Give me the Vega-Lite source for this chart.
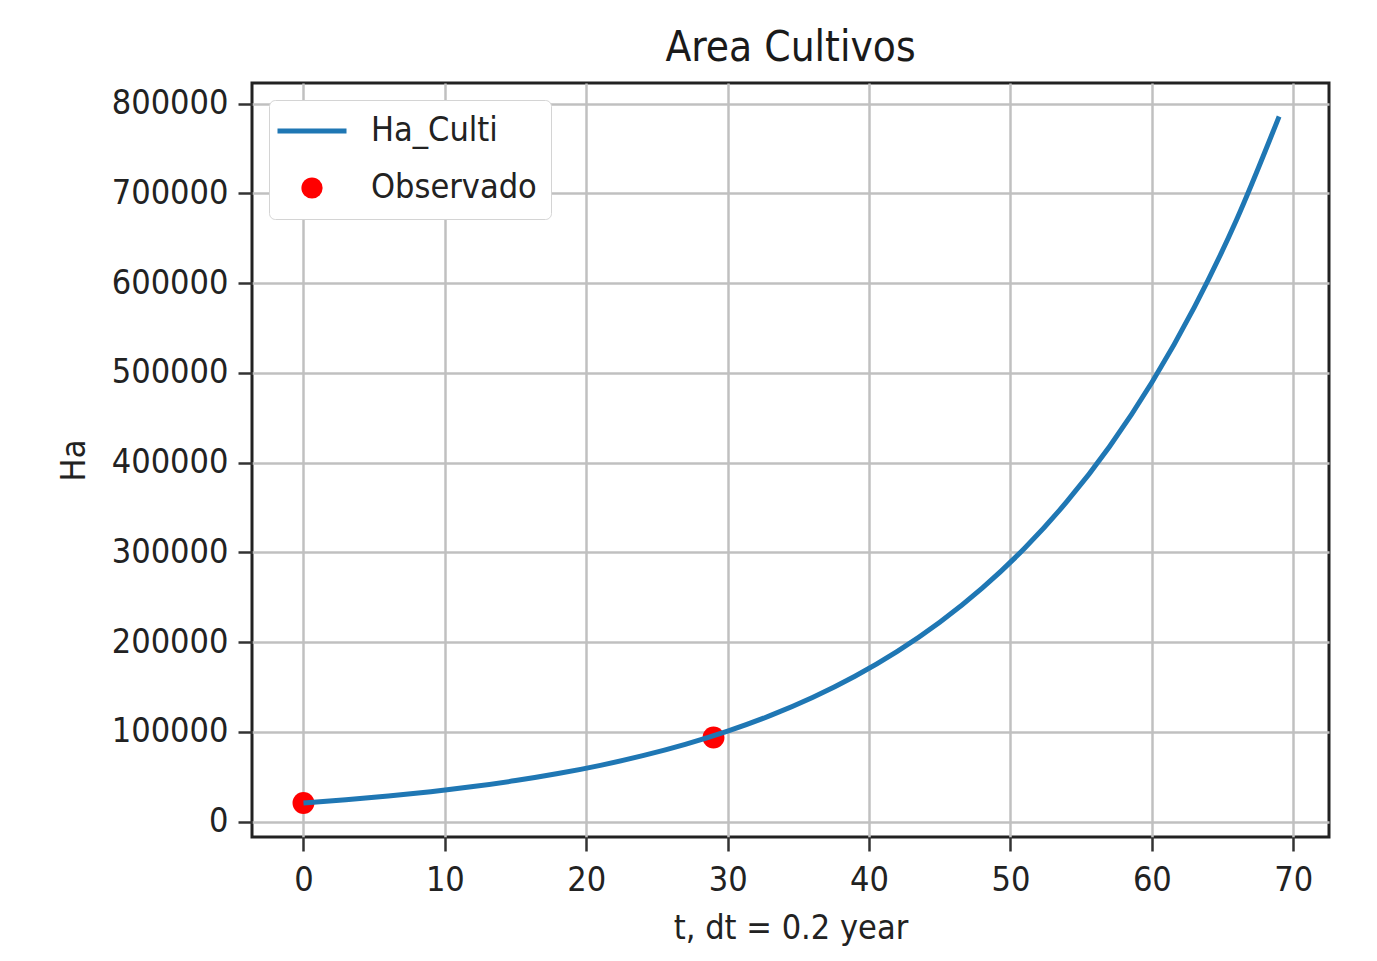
{
  "$schema": "https://vega.github.io/schema/vega-lite/v6.json",
  "width": 1077,
  "height": 754,
  "autosize": "none",
  "padding": {"left": 252, "top": 83, "right": 48, "bottom": 124},
  "background": "white",
  "title": {
    "text": "Area Cultivos",
    "fontSize": 42,
    "font": "DejaVu Sans Condensed, DejaVu Sans",
    "fontWeight": "normal",
    "color": "#1a1a1a",
    "offset": 13,
    "anchor": "middle"
  },
  "data": {
    "values": [
      {"t": 0, "Ha": 20800, "series": "Ha_Culti"},
      {"t": 3, "Ha": 24358, "series": "Ha_Culti"},
      {"t": 6, "Ha": 28524, "series": "Ha_Culti"},
      {"t": 9, "Ha": 33402, "series": "Ha_Culti"},
      {"t": 12, "Ha": 39116, "series": "Ha_Culti"},
      {"t": 15, "Ha": 45806, "series": "Ha_Culti"},
      {"t": 18, "Ha": 53641, "series": "Ha_Culti"},
      {"t": 21, "Ha": 62815, "series": "Ha_Culti"},
      {"t": 24, "Ha": 73559, "series": "Ha_Culti"},
      {"t": 27, "Ha": 86141, "series": "Ha_Culti"},
      {"t": 30, "Ha": 100875, "series": "Ha_Culti"},
      {"t": 33, "Ha": 118129, "series": "Ha_Culti"},
      {"t": 36, "Ha": 138334, "series": "Ha_Culti"},
      {"t": 39, "Ha": 161995, "series": "Ha_Culti"},
      {"t": 42, "Ha": 189703, "series": "Ha_Culti"},
      {"t": 45, "Ha": 222150, "series": "Ha_Culti"},
      {"t": 48, "Ha": 260147, "series": "Ha_Culti"},
      {"t": 51, "Ha": 304643, "series": "Ha_Culti"},
      {"t": 54, "Ha": 356750, "series": "Ha_Culti"},
      {"t": 57, "Ha": 417770, "series": "Ha_Culti"},
      {"t": 60, "Ha": 489226, "series": "Ha_Culti"},
      {"t": 63, "Ha": 572902, "series": "Ha_Culti"},
      {"t": 66, "Ha": 670892, "series": "Ha_Culti"},
      {"t": 69, "Ha": 785639, "series": "Ha_Culti"},
      {"t": 0, "Ha": 20800, "series": "Observado"},
      {"t": 29, "Ha": 93800, "series": "Observado"}
    ]
  },
  "encoding": {
    "x": {
      "field": "t",
      "type": "quantitative",
      "scale": {"domain": [-3.64, 72.53], "nice": false, "zero": false},
      "axis": {
        "values": [0, 10, 20, 30, 40, 50, 60, 70],
        "title": "t, dt = 0.2 year",
        "labelPadding": 12,
        "titlePadding": 14
      }
    },
    "y": {
      "field": "Ha",
      "type": "quantitative",
      "scale": {"domain": [-17030, 822930], "nice": false, "zero": false},
      "axis": {
        "values": [0, 100000, 200000, 300000, 400000, 500000, 600000, 700000, 800000],
        "format": "d",
        "title": "Ha",
        "labelPadding": 10,
        "titlePadding": 20
      }
    },
    "color": {
      "field": "series",
      "type": "nominal",
      "scale": {"domain": ["Ha_Culti", "Observado"], "range": ["#1f77b4", "#ff0000"]},
      "legend": {
        "title": null,
        "orient": "top-left",
        "offset": 17,
        "padding": 14,
        "rowPadding": 23,
        "symbolSize": 4761,
        "symbolStrokeWidth": 5,
        "symbolOffset": 12,
        "labelOffset": 42,
        "labelFontSize": 34,
        "labelFont": "DejaVu Sans Condensed, DejaVu Sans",
        "labelColor": "#222222",
        "labelLimit": 500,
        "fillColor": "white",
        "strokeColor": "#d4d4d4",
        "cornerRadius": 6,
        "encode": {
          "symbols": {
            "update": {
              "shape": {"signal": "datum.value === 'Ha_Culti' ? 'stroke' : 'circle'"},
              "size": {"signal": "datum.value === 'Ha_Culti' ? 4761 : 450"},
              "stroke": {"signal": "datum.value === 'Ha_Culti' ? '#1f77b4' : '#ff0000'"},
              "fill": {"signal": "datum.value === 'Ha_Culti' ? 'transparent' : '#ff0000'"},
              "strokeWidth": {"signal": "datum.value === 'Ha_Culti' ? 5 : 0"}
            }
          }
        }
      }
    }
  },
  "layer": [
    {
      "transform": [{"filter": "datum.series === 'Observado'"}],
      "mark": {"type": "point", "filled": true, "shape": "circle", "size": 480, "opacity": 1}
    },
    {
      "transform": [{"filter": "datum.series === 'Ha_Culti'"}],
      "mark": {"type": "line", "strokeWidth": 5, "interpolate": "monotone"}
    }
  ],
  "config": {
    "font": "DejaVu Sans Condensed, DejaVu Sans",
    "view": {"stroke": "#222222", "strokeWidth": 3, "fill": "white"},
    "axis": {
      "labelFont": "DejaVu Sans Condensed, DejaVu Sans",
      "titleFont": "DejaVu Sans Condensed, DejaVu Sans",
      "labelFontSize": 34,
      "titleFontSize": 34,
      "titleFontWeight": "normal",
      "labelColor": "#222222",
      "titleColor": "#222222",
      "domain": false,
      "grid": true,
      "gridColor": "#c0c0c0",
      "gridWidth": 2.5,
      "tickColor": "#333333",
      "tickWidth": 2.5,
      "tickSize": 14,
      "labelOverlap": false,
      "labelFlush": false
    }
  }
}
